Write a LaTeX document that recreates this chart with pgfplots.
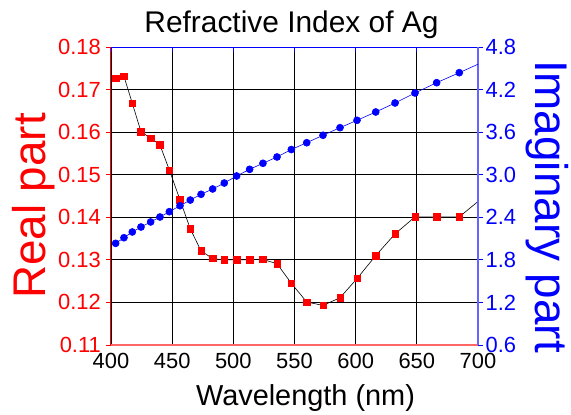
\documentclass[border=0pt]{standalone}
\usepackage{fontspec}
\setmainfont{Liberation Sans}
\usepackage{pgfplots}
\usepackage{pgfplotstable}
\pgfplotsset{compat=1.18}
\usetikzlibrary{calc}

% wavelength (nm), real part n, imaginary part k
\pgfplotstableread{
wl    re     im
403.8 0.1726 2.033
410.6 0.1731 2.112
417.4 0.1668 2.193
424.5 0.1601 2.263
432.4 0.1586 2.334
440.0 0.1570 2.404
447.7 0.1511 2.479
456.4 0.1441 2.563
464.8 0.1373 2.643
473.6 0.1321 2.724
483.1 0.1303 2.799
492.6 0.1300 2.883
502.7 0.1300 2.982
513.3 0.1300 3.076
524.2 0.1301 3.161
535.7 0.1291 3.250
547.4 0.1245 3.355
560.0 0.1201 3.451
573.3 0.1193 3.556
587.2 0.1211 3.663
601.1 0.1256 3.767
616.4 0.1310 3.884
632.2 0.1361 4.011
648.5 0.1401 4.152
666.2 0.1401 4.297
684.7 0.1401 4.438
704.2 0.1447 4.590
}\agdata

\begin{document}
\begin{tikzpicture}
\pgfplotsset{
  common/.style={
    scale only axis, width=367bp, height=298bp,
    xmin=400, xmax=700,
    xtick={400,450,500,550,600,650,700},
    tick align=outside, major tick length=5bp,
    /pgf/number format/assume math mode=true,
    tick label style={font=\fontsize{22}{24}\selectfont},
  }
}
\begin{axis}[common, name=ax,
  axis x line*=bottom, axis y line*=left,
  x axis line style={red!60, line width=1.5bp},
  y axis line style={red, line width=1bp},
  ymin=0.11, ymax=0.18,
  ytick={0.11,0.12,0.13,0.14,0.15,0.16,0.17,0.18},
  grid=major, major grid style={black, line width=0.8bp},
  x tick style={draw=none},
  y tick style={red, line width=0.8bp},
  xticklabel style={black},
  yticklabel style={red, inner xsep=5bp,
    /pgf/number format/.cd, fixed, fixed zerofill, precision=2},
]
\addplot[black, line width=0.6bp, mark=square*, mark size=3.2bp,
  mark options={solid, fill=red, draw=red}] table[x=wl, y=re] {\agdata};
\end{axis}
\begin{axis}[common,
  axis x line*=top, axis y line*=right,
  x axis line style={blue, line width=1bp},
  y axis line style={blue!60, line width=1.5bp},
  xticklabels={},
  ymin=0.6, ymax=4.8,
  ytick={0.6,1.2,1.8,2.4,3.0,3.6,4.2,4.8},
  x tick style={blue, line width=0.8bp, yshift=-5bp},
  y tick style={blue, line width=0.8bp},
  yticklabel style={blue, inner xsep=2.5bp,
    /pgf/number format/.cd, fixed, fixed zerofill, precision=1},
]
\addplot[blue, line width=0.6bp, mark=*, mark size=3.5bp,
  mark options={solid, fill=blue, draw=blue}] table[x=wl, y=im] {\agdata};
\end{axis}

\node[anchor=base, font=\fontsize{30}{32}\selectfont]
  at ($(ax.north)+(-3bp,14bp)$) {Refractive Index of Ag};
\node[anchor=base, font=\fontsize{29}{31}\selectfont]
  at ($(ax.south)+(11bp,-60bp)$) {Wavelength (nm)};
\node[anchor=base, rotate=90, red, font=\fontsize{46}{48}\selectfont]
  at ($(ax.west)+(-65.3bp,-10bp)$) {Real part};
\node[anchor=base, rotate=-90, blue, font=\fontsize{46}{48}\selectfont]
  at ($(ax.east)+(57bp,-10.5bp)$) {Imaginary part};

\pgfresetboundingbox
\path[use as bounding box] ($(ax.south west)+(-111bp,-70bp)$)
  rectangle ($(ax.north east)+(93bp,47bp)$);
\end{tikzpicture}
\end{document}
